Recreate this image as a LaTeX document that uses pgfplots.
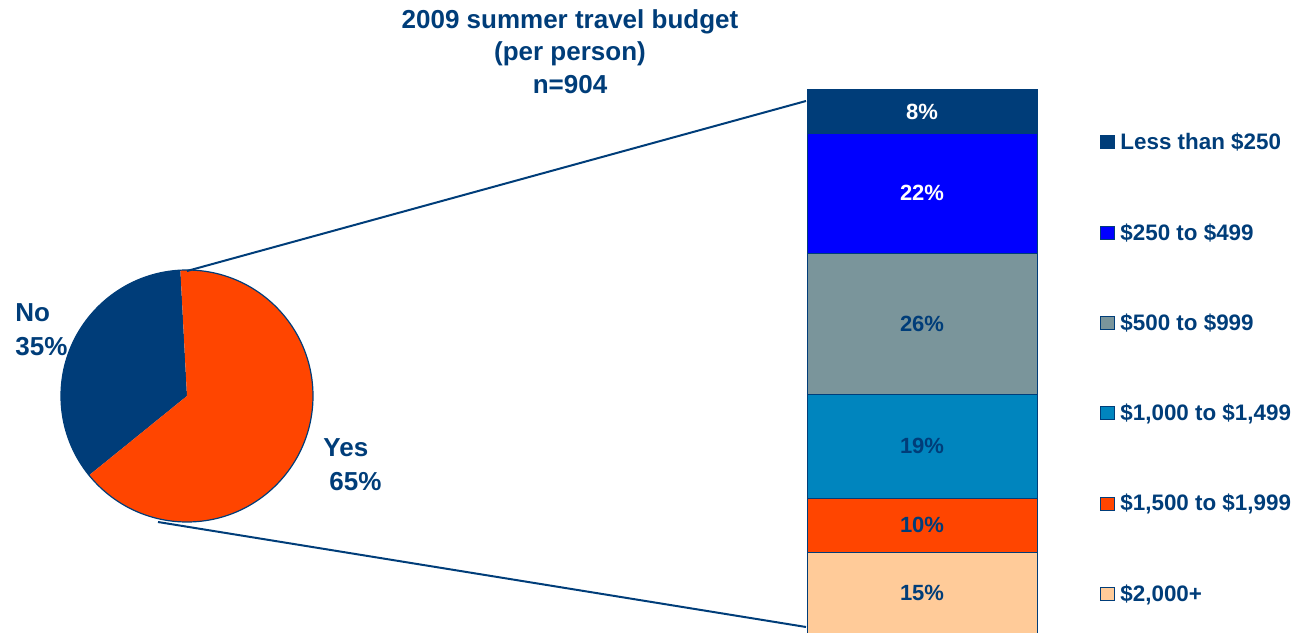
\documentclass[border=0pt]{standalone}
\usepackage{fontspec}
\setmainfont{Liberation Sans}
\usepackage{pgfplots}
\pgfplotsset{compat=1.18}

\definecolor{navy}{HTML}{003D79}
\definecolor{brightblue}{HTML}{0000FF}
\definecolor{slate}{HTML}{7A959B}
\definecolor{midblue}{HTML}{0085BE}
\definecolor{orangered}{HTML}{FF4500}
\definecolor{peach}{HTML}{FFCB99}

\tikzset{seglabel/.style={font=\fontsize{11}{13}\selectfont\bfseries}}

\begin{document}
\begin{tikzpicture}
\useasboundingbox (0,0) rectangle (647.5pt,316pt);
\clip (0,0) rectangle (647.5pt,316pt);

% pie: 35% No / 65% Yes, centre and radius in image pixels (1px = 0.5pt)
\begin{scope}[x=0.5pt,y=0.5pt]
\pgfmathsetmacro\aA{93}
\pgfmathsetmacro\aB{93+3.6*35}
\pgfmathsetmacro\aC{93+360}
\fill[navy] (187,236) -- ++(\aA:63pt) arc[start angle=\aA, end angle=\aB, radius=63pt] -- cycle;
\fill[orangered] (187,236) -- ++(\aB:63pt) arc[start angle=\aB, end angle=\aC, radius=63pt] -- cycle;
\draw[navy, line width=0.6pt] (187,236) circle[radius=63pt];

% connector lines
\draw[navy, line width=1pt] (187,361) -- (806,531);
\draw[navy, line width=1pt] (158,110) -- (806,5);

% pie labels
\begin{scope}[font=\fontsize{13}{15}\selectfont\bfseries, text=navy]
\node[anchor=base west, inner sep=0] at (15,310.3) {No};
\node[anchor=base west, inner sep=0] at (15,276) {35\%};
\node[anchor=base west, inner sep=0] at (323,175.3) {Yes};
\node[anchor=base west, inner sep=0] at (329,141.3) {65\%};
\end{scope}

% title
\begin{scope}[font=\fontsize{13}{15}\selectfont\bfseries, text=navy]
\node[anchor=base, inner sep=0] at (570,603.7) {2009 summer travel budget};
\node[anchor=base, inner sep=0] at (570,571.2) {(per person)};
\node[anchor=base, inner sep=0] at (570,538.7) {n=904};
\end{scope}

% legend
\begin{scope}[font=\fontsize{11.2}{13}\selectfont\bfseries, text=navy]
\foreach \b/\c/\t in {150/navy/Less than \$250, 240.5/brightblue/\$250 to \$499,
  331/slate/\$500 to \$999, 421/midblue/\$1{,}000 to \$1{,}499,
  511/orangered/\$1{,}500 to \$1{,}999, 601/peach/\$2{,}000+}{
  \filldraw[fill=\c, draw=navy, line width=0.5pt] (1100,632-\b+1) rectangle (1114,632-\b+14);
  \node[anchor=base west, inner sep=0] at (1120,632-\b) {\t};
}
\end{scope}
\end{scope}

\begin{axis}[
    at={(403.5pt,-1pt)}, anchor=south west,
    scale only axis, width=115pt, height=272pt,
    xmin=-0.5, xmax=0.5, ymin=0, ymax=100,
    hide axis, clip=false,
    ybar stacked, bar width=115pt,
    after end axis/.code={
      \node[seglabel, text=navy] at (axis cs:0,7.5) {15\%};
      \node[seglabel, text=navy] at (axis cs:0,20) {10\%};
      \node[seglabel, text=navy] at (axis cs:0,34.5) {19\%};
      \node[seglabel, text=navy] at (axis cs:0,57) {26\%};
      \node[seglabel, text=white] at (axis cs:0,81) {22\%};
      \node[seglabel, text=white] at (axis cs:0,96) {8\%};
    },
]
\addplot[fill=peach, draw=navy, line width=0.5pt] coordinates {(0,15)};
\addplot[fill=orangered, draw=navy, line width=0.5pt] coordinates {(0,10)};
\addplot[fill=midblue, draw=navy, line width=0.5pt] coordinates {(0,19)};
\addplot[fill=slate, draw=navy, line width=0.5pt] coordinates {(0,26)};
\addplot[fill=brightblue, draw=navy, line width=0.5pt] coordinates {(0,22)};
\addplot[fill=navy, draw=navy, line width=0.5pt] coordinates {(0,8)};
\end{axis}
\end{tikzpicture}
\end{document}
